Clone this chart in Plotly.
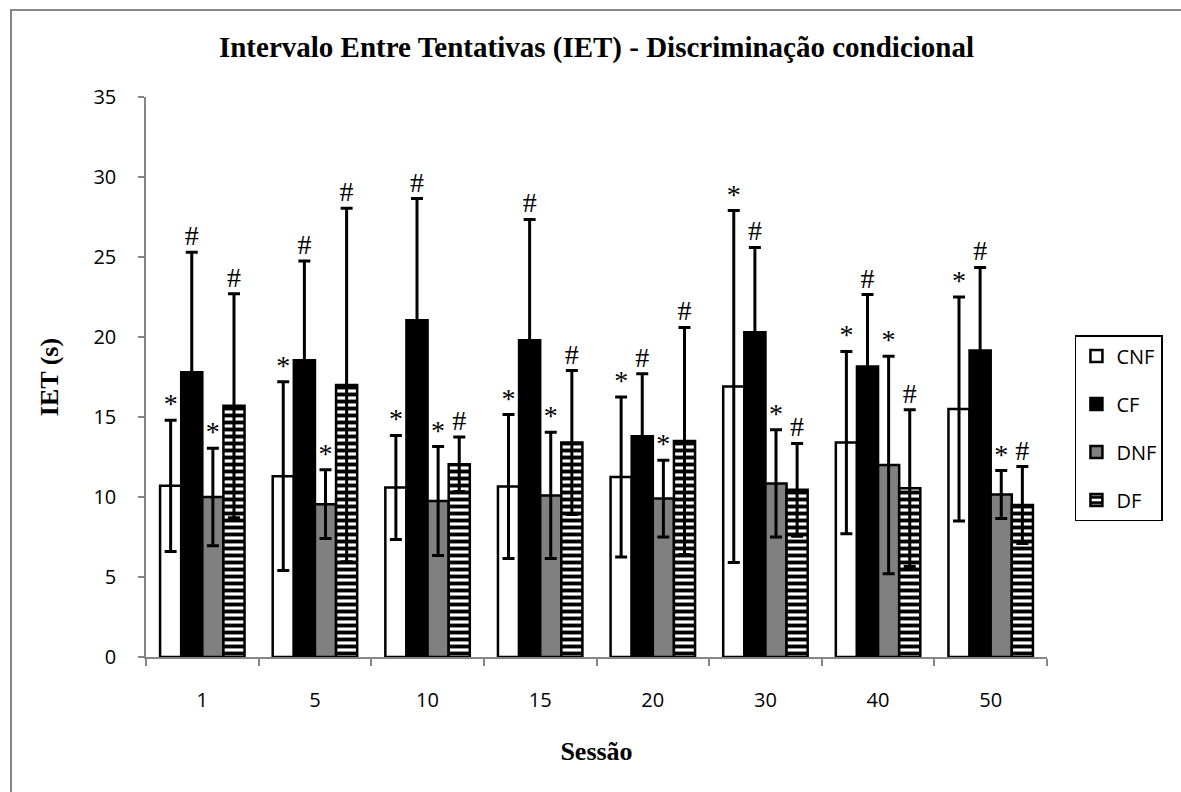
import plotly.graph_objects as go

sessions = ["1", "5", "10", "15", "20", "30", "40", "50"]

cnf = [10.7, 11.3, 10.6, 10.65, 11.25, 16.9, 13.4, 15.5]
cnf_err = [4.1, 5.9, 3.25, 4.5, 5.0, 11.0, 5.7, 7.0]
cf = [17.8, 18.55, 21.05, 19.8, 13.8, 20.3, 18.15, 19.15]
cf_err = [7.5, 6.2, 7.6, 7.55, 3.9, 5.3, 4.5, 5.2]
dnf = [10.0, 9.55, 9.75, 10.1, 9.9, 10.85, 12.0, 10.15]
dnf_err = [3.05, 2.15, 3.4, 3.95, 2.4, 3.35, 6.8, 1.5]
df = [15.7, 17.0, 12.05, 13.4, 13.5, 10.45, 10.55, 9.5]
df_err = [7.0, 11.05, 1.7, 4.5, 7.1, 2.9, 4.9, 2.4]

series_names = ["CNF", "CF", "DNF", "DF"]
series_vals = [cnf, cf, dnf, df]
series_errs = [cnf_err, cf_err, dnf_err, df_err]
series_marks = ["*", "#", "*", "#"]

fills = ["white", "black", "#808080", "white"]

fig = go.Figure()

for i, (name, vals, errs) in enumerate(zip(series_names, series_vals, series_errs)):
    marker = dict(color=fills[i], line=dict(color="black", width=2.5))
    if name == "DF":
        marker["pattern"] = dict(shape="-", fgcolor="black", bgcolor="white",
                                 size=7, solidity=0.55, fgopacity=1)
    fig.add_trace(go.Bar(
        x=sessions, y=vals, name=name, marker=marker,
        offsetgroup=name, legendgroup=name,
        error_y=dict(type="data", array=errs, visible=True,
                     color="black", thickness=3, width=6),
    ))

for i, (name, vals, errs) in enumerate(zip(series_names, series_vals, series_errs)):
    fig.add_trace(go.Scatter(
        x=sessions, y=[v + e for v, e in zip(vals, errs)],
        mode="text", text=[series_marks[i]] * len(sessions),
        textposition="top center",
        textfont=dict(family="Liberation Serif", size=28, color="black"),
        offsetgroup=name, showlegend=False, hoverinfo="skip",
    ))

axis_gray = "#868686"

fig.update_layout(
    width=1181, height=792, autosize=False,
    margin=dict(l=146, r=134, t=97, b=135),
    paper_bgcolor="white", plot_bgcolor="white",
    barmode="group", bargap=0.25, bargroupgap=0,
    scattermode="group", scattergap=0.25,
    font=dict(family="Open Sans", size=19, color="black"),
    title=dict(
        text="<b>Intervalo Entre Tentativas (IET) - Discriminação condicional</b>",
        font=dict(family="Liberation Serif", size=29, color="black"),
        x=0.5, xref="paper", xanchor="center",
        y=1 - 47 / 792, yref="container", yanchor="middle",
    ),
    legend=dict(
        x=1.031, xanchor="left", y=0.575, yanchor="top",
        bordercolor="black", borderwidth=1.5,
        font=dict(family="Open Sans", size=20, color="black"),
        traceorder="grouped", tracegroupgap=19,
        bgcolor="white",
    ),
    xaxis=dict(
        showline=True, linecolor=axis_gray, linewidth=1.5,
        ticks="outside", ticklen=7, tickcolor=axis_gray, tickwidth=1.5,
        tickson="boundaries", showgrid=False,
        ticklabelstandoff=24,
        tickfont=dict(size=20),
        title=dict(text="<b>Sessão</b>", standoff=30,
                   font=dict(family="Liberation Serif", size=26, color="black")),
    ),
    yaxis=dict(
        range=[0, 35], dtick=5, showline=True, linecolor=axis_gray, linewidth=1.5,
        ticks="outside", ticklen=6, tickcolor=axis_gray, tickwidth=1.5,
        showgrid=False, zeroline=False,
        ticklabelstandoff=18,
        tickfont=dict(size=20),
        title=dict(text="<b>IET (s)</b>", standoff=27,
                   font=dict(family="Liberation Serif", size=26, color="black")),
    ),
    shapes=[dict(
        type="rect", xref="paper", yref="paper",
        x0=(11 - 146) / 901, x1=(1190 - 146) / 901,
        y0=(657 - 810) / 560, y1=(657 - 10) / 560,
        line=dict(color=axis_gray, width=2), fillcolor="rgba(0,0,0,0)", layer="below",
    )],
)

fig.write_html("out.html")
